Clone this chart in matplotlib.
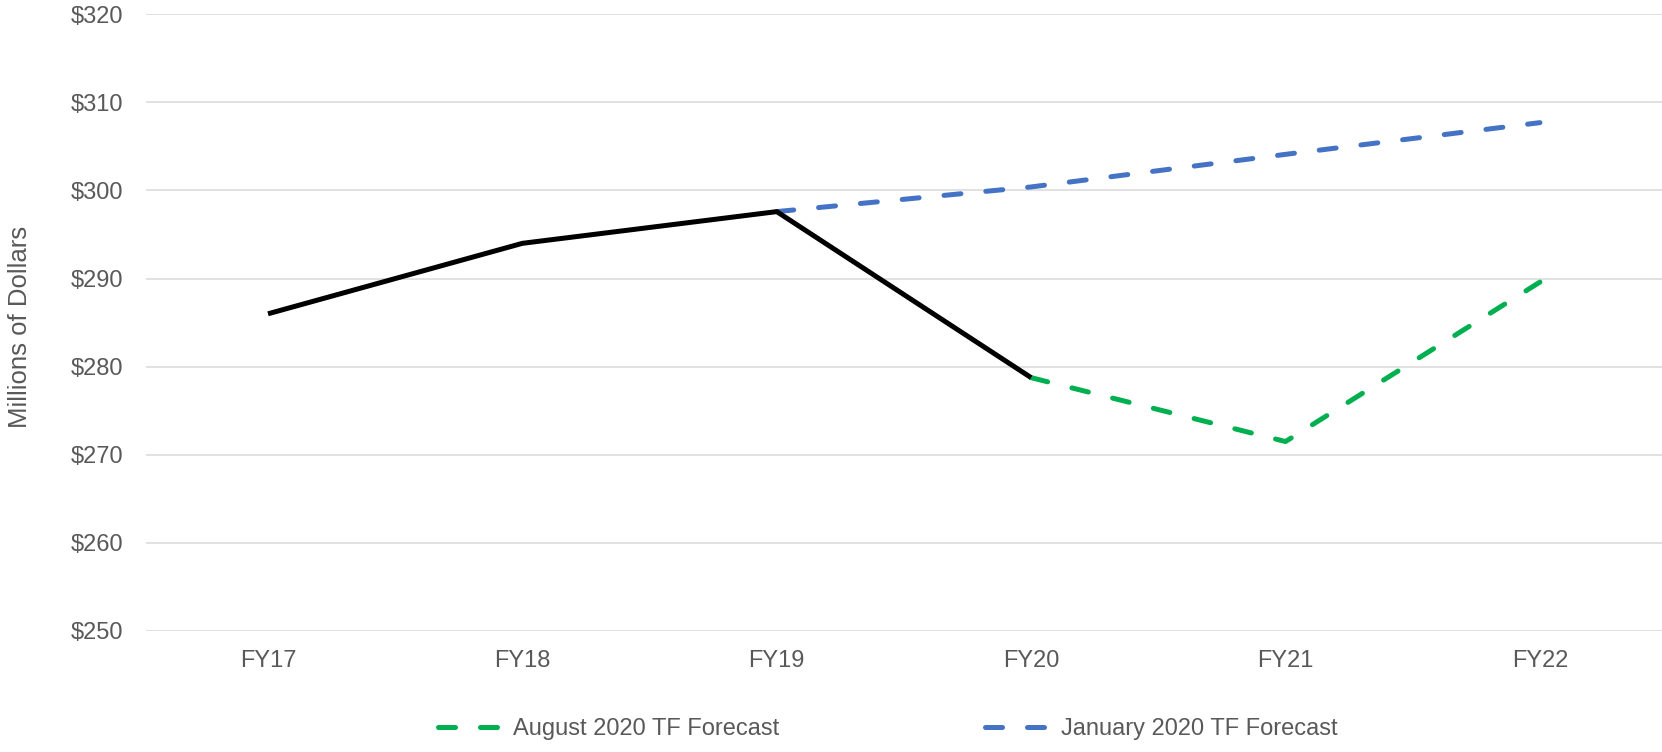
import numpy as np
import matplotlib
matplotlib.use("Agg")
import matplotlib.pyplot as plt
from matplotlib.lines import Line2D

plt.rcParams['font.family'] = ['Liberation Sans', 'DejaVu Sans']

years = ['FY17', 'FY18', 'FY19', 'FY20', 'FY21', 'FY22']
actual = [286.0, 294.0, 297.6, 278.75]            # FY17-FY20
aug_forecast = [278.75, 271.5, 289.6]            # FY20-FY22
jan_forecast = [297.6, 300.4, 304.1, 307.7]      # FY19-FY22

green = '#00B050'
blue = '#4472C4'
txt = '#595959'
grid_c = '#D9D9D9'
lw = 3.6
dash = (3.4, 5.0)
fs = 17

fig = plt.figure(figsize=(16.62, 7.52), dpi=100)
ax = fig.add_axes([0.0878, 0.161, 0.9122, 0.820])

x = np.arange(len(years))
ax.plot(x[0:4], actual, color='black', lw=lw, solid_capstyle='butt', zorder=3)
ax.plot(x[3:6], aug_forecast, color=green, lw=lw, dashes=dash,
        dash_capstyle='round', zorder=2)
ax.plot(x[2:6], jan_forecast, color=blue, lw=lw, dashes=dash,
        dash_capstyle='round', zorder=2)

ax.set_ylim(250, 320)
ax.set_yticks(np.arange(250, 321, 10))
ax.set_yticklabels([f'${v}' for v in range(250, 321, 10)])
ax.set_xlim(-0.48, 5.48)
ax.set_xticks(x)
ax.set_xticklabels(years)

ax.grid(axis='y', color=grid_c, lw=1.1)
ax.set_axisbelow(True)
for s in ax.spines.values():
    s.set_visible(False)
ax.tick_params(axis='y', length=0, pad=16, labelsize=fs, labelcolor=txt)
ax.tick_params(axis='x', length=0, pad=14, labelsize=fs, labelcolor=txt)

fig.text(0.005, 0.565, 'Millions of Dollars', rotation=90, ha='left', va='center',
         fontsize=18.5, color=txt)

handles = [Line2D([], [], color=green, lw=lw, dashes=dash, dash_capstyle='round'),
           Line2D([], [], color=blue, lw=lw, dashes=dash, dash_capstyle='round')]
leg = fig.legend(handles, ['August 2020 TF Forecast', 'January 2020 TF Forecast'],
                 loc='center', bbox_to_anchor=(0.534, 0.03), ncol=2, frameon=False,
                 fontsize=fs, handlelength=2.5, handletextpad=0.7,
                 columnspacing=8.7)
for t in leg.get_texts():
    t.set_color(txt)

fig.savefig('out.png', dpi=100)
